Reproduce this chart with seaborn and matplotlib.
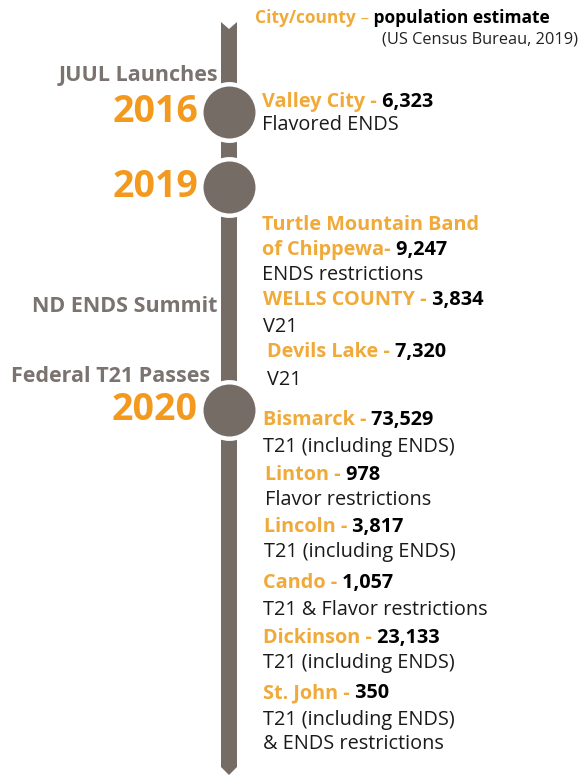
import numpy as np
import matplotlib
matplotlib.use('Agg')
import matplotlib.pyplot as plt
import seaborn as sns

# =============================================================================
# 数据
# =============================================================================
years = [2016, 2019, 2020]
events = ['JUUL Launches', 'ND ENDS Summit', 'Federal T21 Passes']
cities = ['Valley City -', 'Turtle Mountain Band\nof Chippewa-', 'WELLS COUNTY -',
          'Devils Lake -', 'Bismarck -', 'Linton -', 'Lincoln -', 'Cando -',
          'Dickinson -', 'St. John -']
populations = [6323, 9247, 3834, 7320, 73529, 978, 3817, 1057, 23133, 350]
policies = ['Flavored ENDS', 'ENDS restrictions', 'V21', 'V21',
            'T21 (including ENDS)', 'Flavor restrictions', 'T21 (including ENDS)',
            'T21 & Flavor restrictions', 'T21 (including ENDS)',
            'T21 (including ENDS)\n& ENDS restrictions']

# =============================================================================
# 版面 (像素坐标)
# =============================================================================
W, H = 587, 775
bar_x = 229
year_y = [112, 187, 410]
event_y = [75, 307, 377]
event_x = [218, 217, 210]
city_y = [102, 225, 300, 352, 420, 475, 527, 583, 638, 693]
city_x = [262, 262, 263, 267, 263, 265, 264, 263, 263, 263]
policy_gap = [23, 25, 27, 28, 27, 25, 25, 27, 25, 27]

grey = '#766c66'
label_grey = '#7a736f'
year_orange = '#f39a1e'
city_orange = '#f0aa3a'

sns.set_theme(style='white')
plt.rcParams['font.family'] = ['Open Sans', 'DejaVu Sans']

fig = plt.figure(figsize=(W / 100, H / 100), dpi=100)
ax = fig.add_axes([0, 0, 1, 1])

# 时间轴主干, 顶部缺口, 底部尖头
hw = 8
ax.fill([bar_x - hw, bar_x, bar_x + hw, bar_x + hw, bar_x, bar_x - hw],
        [22, 29, 22, H - 8, H, H - 8], color=grey, lw=0, zorder=1)

# 年份圆点
sns.scatterplot(x=[bar_x] * len(years), y=year_y, ax=ax, s=1650, color=grey,
                edgecolor='white', linewidth=3.2, legend=False, zorder=3)

for yr, y in zip(years, year_y):
    ax.text(198, y, str(yr), ha='right', va='center', fontsize=27,
            fontweight='bold', color=year_orange)

for ev, x, y in zip(events, event_x, event_y):
    ax.text(x, y, ev, ha='right', va='center', fontsize=15.5,
            fontweight='bold', color=label_grey)

# 图例
t = ax.text(255, 18, 'City/county', ha='left', va='center', fontsize=12.5,
            fontweight='bold', color=city_orange)
t = ax.annotate(' –', xy=(1, 0), xycoords=t, ha='left', va='bottom',
                fontsize=12.5, color=city_orange)
ax.annotate(' population estimate', xy=(1, 0), xycoords=t, ha='left',
            va='bottom', fontsize=12.5, fontweight='bold', color='black')
ax.text(382, 39, '(US Census Bureau, 2019)', ha='left', va='center',
        fontsize=11.8, color='#222222')

# 城市条目
for name, pop, pol, x, y, gap in zip(cities, populations, policies,
                                      city_x, city_y, policy_gap):
    lines = name.split('\n')
    for i, ln in enumerate(lines):
        t = ax.text(x, y + 25 * i, ln, ha='left', va='center', fontsize=14.3,
                    fontweight='bold', color=city_orange)
    ax.annotate(' ' + format(pop, ','), xy=(1, 0), xycoords=t, ha='left',
                va='bottom', fontsize=14.3, fontweight='bold', color='black')
    last_y = y + 25 * (len(lines) - 1)
    for j, p in enumerate(pol.split('\n')):
        ax.text(x, last_y + gap + 24 * j, p, ha='left', va='center',
                fontsize=14.3, color='#1a1a1a')

ax.set_xlim(0, W)
ax.set_ylim(H, 0)
ax.axis('off')

fig.savefig('out.png', dpi=100)
